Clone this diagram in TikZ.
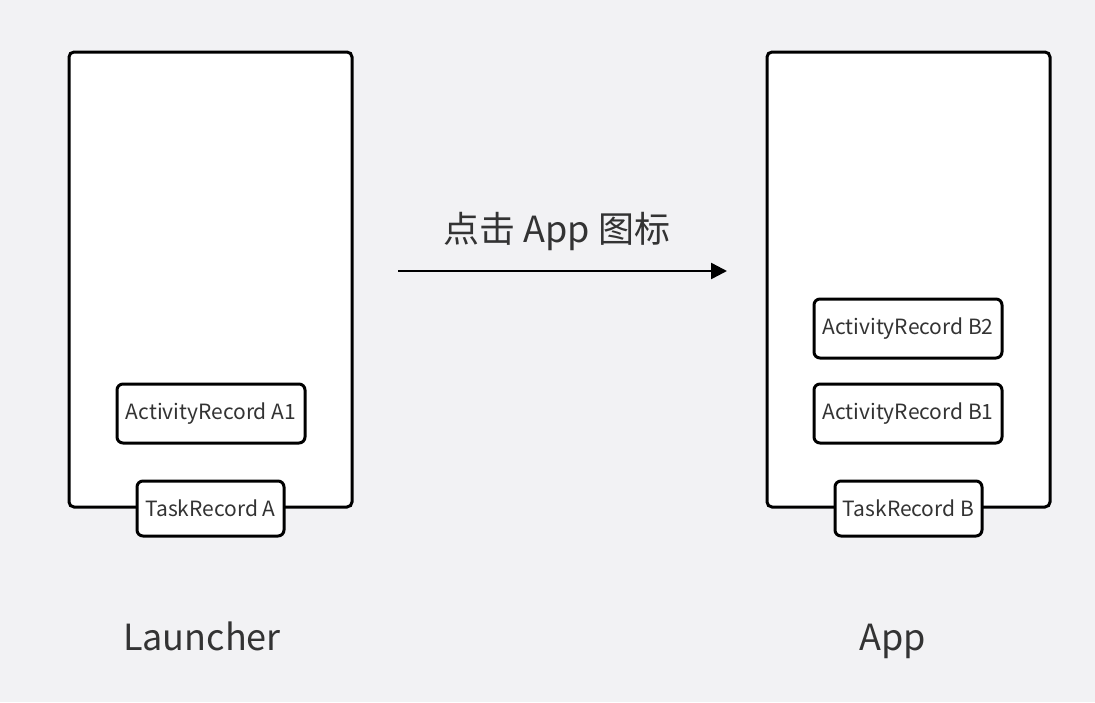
\documentclass[tikz,border=0pt]{standalone}
\usepackage{fontspec}
\setmainfont{Noto Sans CJK SC}
\usetikzlibrary{arrows.meta}
\definecolor{bg}{HTML}{F2F2F4}
\definecolor{txt}{HTML}{333333}
\tikzset{
  frame/.style={draw=black, line width=3pt, fill=white, rounded corners=5pt},
  rec/.style={draw=black, line width=3pt, fill=white, rounded corners=6pt, text=txt, font=\fontsize{21}{24}\selectfont, inner sep=0pt},
  big/.style={text=txt, font=\fontsize{36}{42}\selectfont},
}
\begin{document}
\begin{tikzpicture}[x=1pt,y=-1pt]
\fill[bg] (0,0) rectangle (1095,702);
\useasboundingbox (0,0) rectangle (1095,702);
% left
\node[frame, minimum width=283pt, minimum height=455pt] (launcher) at (210.5,279.5) {};
\node[rec, minimum width=188pt, minimum height=59pt] (a1) at (211,413.5) {ActivityRecord A1};
\node[rec, minimum width=147pt, minimum height=55pt] (ta) at (210.5,508.5) {TaskRecord A};
\node[big, anchor=base] (lname) at (202,650) {Launcher};
% right
\node[frame, minimum width=283pt, minimum height=455pt] (app) at (908.5,279.5) {};
\node[rec, minimum width=188pt, minimum height=59pt] (b2) at (908,328.5) {ActivityRecord B2};
\node[rec, minimum width=188pt, minimum height=59pt] (b1) at (908,413.5) {ActivityRecord B1};
\node[rec, minimum width=147pt, minimum height=55pt] (tb) at (908.5,508.5) {TaskRecord B};
\node[big, anchor=base] (aname) at (893,650) {App};
% arrow
\coordinate (s) at (398,271);
\coordinate (e) at (727,271);
\draw[line width=2.5pt, -{Triangle[length=16pt,width=16pt]}] (s) -- (e);
\node[big, anchor=base] (lbl) at (557,242) {点击 App 图标};
\end{tikzpicture}
\end{document}
